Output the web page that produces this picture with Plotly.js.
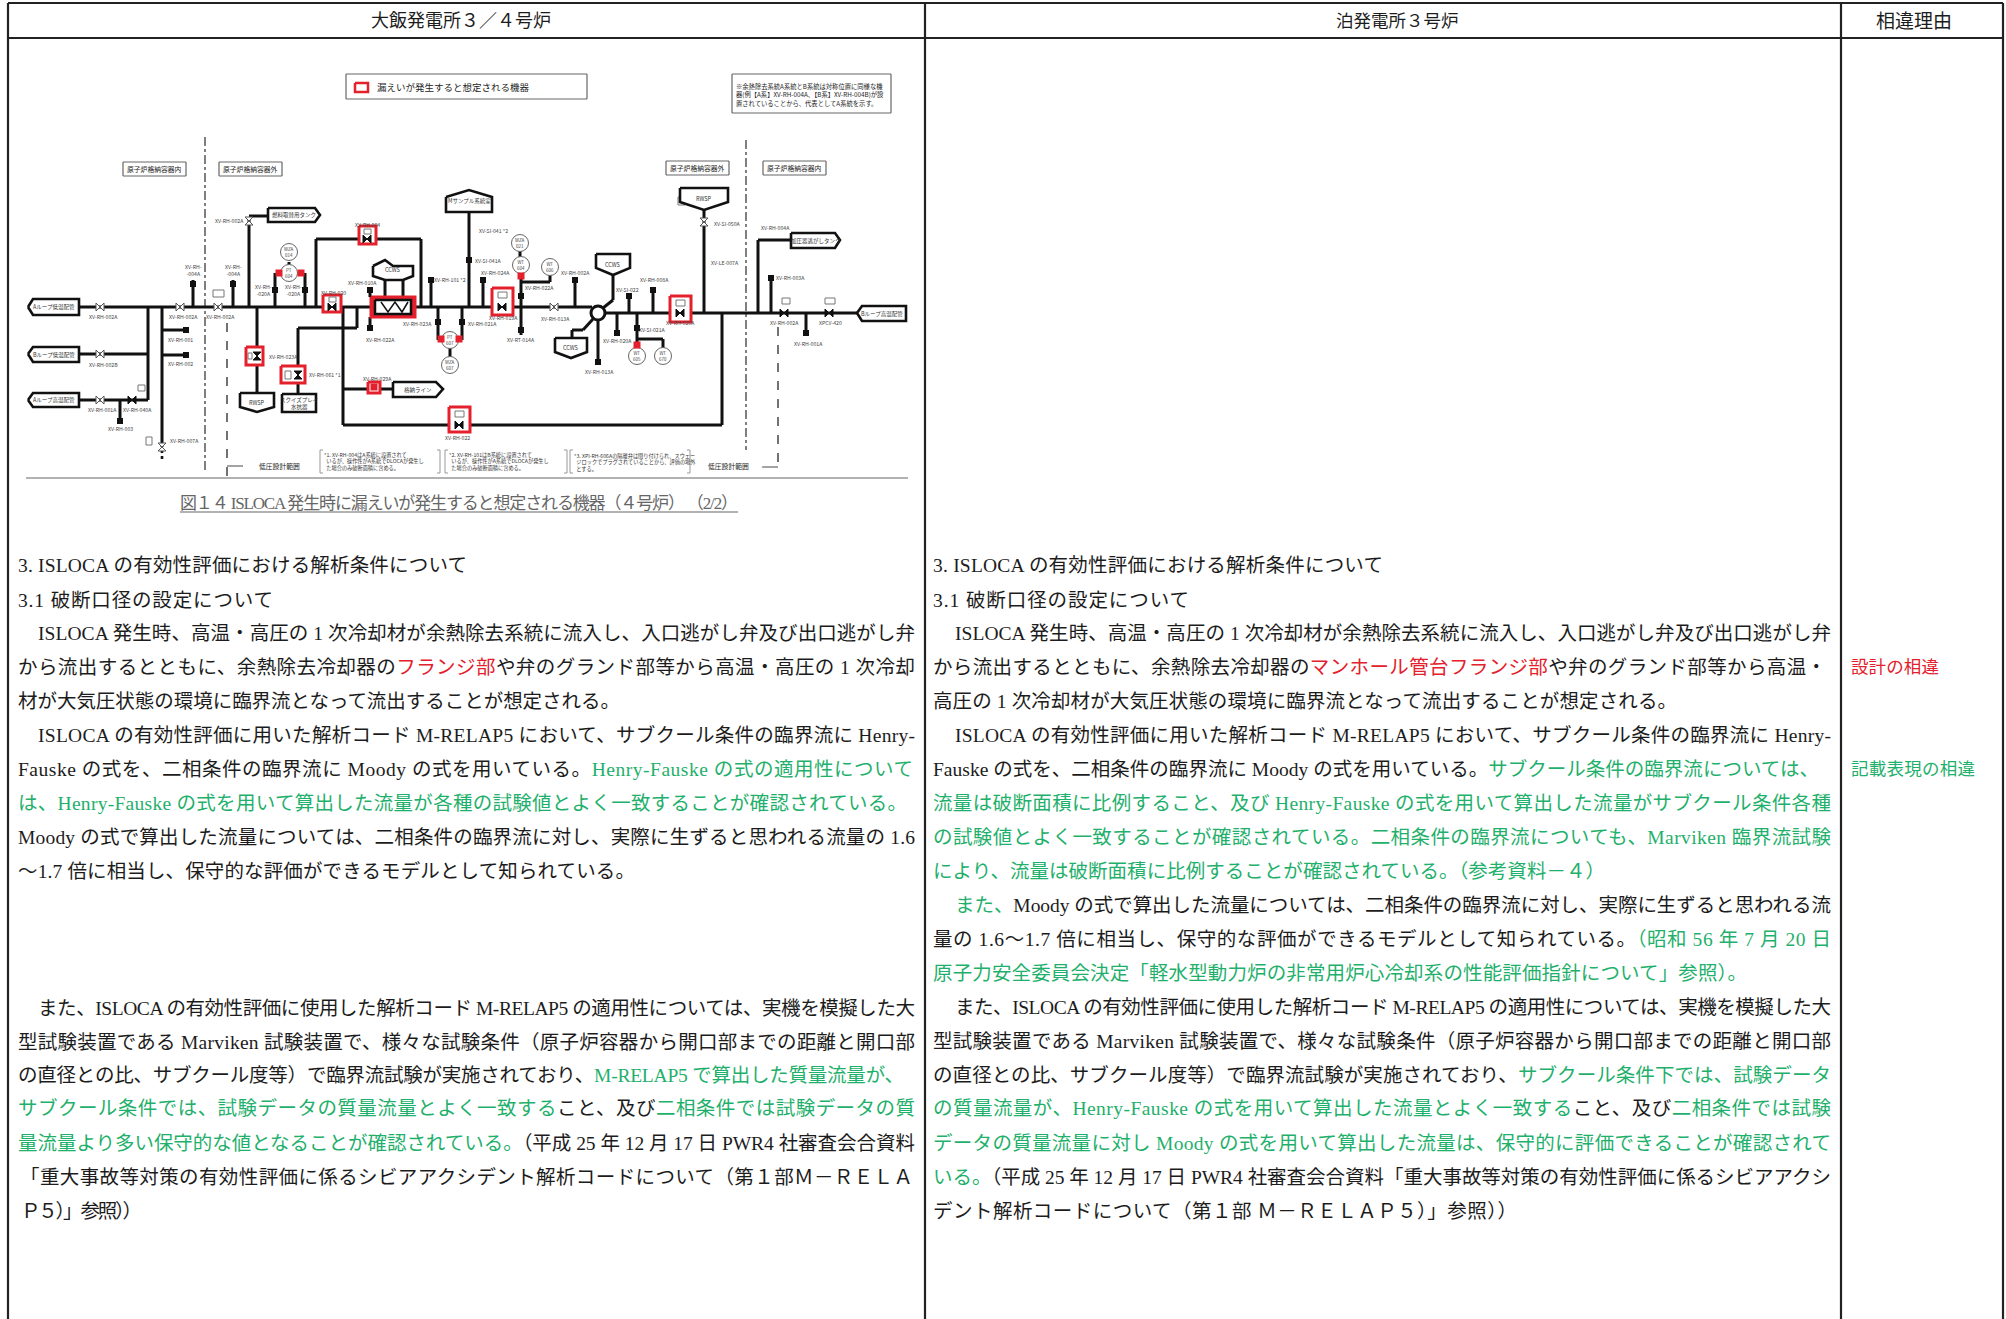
<!DOCTYPE html>
<html><head><meta charset="utf-8">
<script src="https://cdn.plot.ly/plotly-3.0.1.min.js"></script>
<style>html,body{margin:0;padding:0;background:#fff}</style></head>
<body><div id="chart" style="width:2006px;height:1319px"></div>
<script>
const SERIF='"Liberation Serif","Noto Sans CJK JP",serif';
const SANS='"Noto Sans CJK JP","Liberation Sans",sans-serif';
const RED='#e3202c', GREEN='#1fb06c', INK='#1c1c1c';
const R=s=>`<span style="color:${RED}">${s}</span>`;
const G=s=>`<span style="color:${GREEN}">${s}</span>`;
/* W: full-width form of an ASCII run; FW: full-width brackets and wave dash */
const W=s=>s.replace(/[!-~]/g,c=>String.fromCharCode(c.charCodeAt(0)+0xFEE0));
const FW=s=>s.replace(/\(/g,'\uFF08').replace(/\)/g,'\uFF09').replace(/~/g,'\uFF5E');

/* table */
const headers=[['大飯発電所'+W('3/4')+'号炉',461,21,18],['泊発電所'+W('3')+'号炉',1397,21,17.5],['相違理由',1914,21,19]];
const tableRules=[[8,3,2003,3],[8,38,2003,38],[8,3,8,1319],[925,3,925,1319],[1841,3,1841,1319],[2003,3,2003,1319]];

/* body text: [text, y, xStart, xEnd] */
const leftLines=[
['3. ISLOCA の有効性評価における解析条件について',565,18,467],
['3.1 破断口径の設定について',600,18,273],
['ISLOCA 発生時、高温・高圧の 1 次冷却材が余熱除去系統に流入し、入口逃がし弁及び出口逃がし弁',633,38,915],
['から流出するとともに、余熱除去冷却器の'+R('フランジ部')+'や弁のグランド部等から高温・高圧の 1 次冷却',667,18,915],
['材が大気圧状態の環境に臨界流となって流出することが想定される。',701,18,620],
['ISLOCA の有効性評価に用いた解析コード M-RELAP5 において、サブクール条件の臨界流に Henry-',735,38,915],
['Fauske の式を、二相条件の臨界流に Moody の式を用いている。'+G('Henry-Fauske の式の適用性について'),769,18,913],
[G('は、Henry-Fauske の式を用いて算出した流量が各種の試験値とよく一致することが確認されている。'),803,18,907],
['Moody の式で算出した流量については、二相条件の臨界流に対し、実際に生ずると思われる流量の 1.6',837,18,915],
['~1.7 倍に相当し、保守的な評価ができるモデルとして知られている。',871,18,635],
['また、ISLOCA の有効性評価に使用した解析コード M-RELAP5 の適用性については、実機を模擬した大',1008,38,915],
['型試験装置である Marviken 試験装置で、様々な試験条件(原子炉容器から開口部までの距離と開口部',1042,18,915],
['の直径との比、サブクール度等)で臨界流試験が実施されており、'+G('M-RELAP5 で算出した質量流量が、'),1075,18,904],
[G('サブクール条件では、試験データの質量流量とよく一致する')+'こと、及び'+G('二相条件では試験データの質'),1108,18,915],
[G('量流量より多い保守的な値となることが確認されている。')+'(平成 25 年 12 月 17 日 PWR4 社審査会合資料',1143,18,915],
['「重大事故等対策の有効性評価に係るシビアアクシデント解析コードについて(第'+W('1')+'部'+W('M-RELA'),1177,20,913],
[W('P5')+')」参照))',1211,21,142]];
const rightLines=[
['3. ISLOCA の有効性評価における解析条件について',565,933,1383],
['3.1 破断口径の設定について',600,933,1189],
['ISLOCA 発生時、高温・高圧の 1 次冷却材が余熱除去系統に流入し、入口逃がし弁及び出口逃がし弁',633,955,1831],
['から流出するとともに、余熱除去冷却器の'+R('マンホール管台フランジ部')+'や弁のグランド部等から高温・',667,933,1826],
['高圧の 1 次冷却材が大気圧状態の環境に臨界流となって流出することが想定される。',701,933,1677],
['ISLOCA の有効性評価に用いた解析コード M-RELAP5 において、サブクール条件の臨界流に Henry-',735,955,1831],
['Fauske の式を、二相条件の臨界流に Moody の式を用いている。'+G('サブクール条件の臨界流については、'),769,933,1819],
[G('流量は破断面積に比例すること、及び Henry-Fauske の式を用いて算出した流量がサブクール条件各種'),803,933,1831],
[G('の試験値とよく一致することが確認されている。二相条件の臨界流についても、Marviken 臨界流試験'),837,933,1831],
[G('により、流量は破断面積に比例することが確認されている。(参考資料'+W('-4')+')'),871,933,1605],
[G('また、')+'Moody の式で算出した流量については、二相条件の臨界流に対し、実際に生ずると思われる流',905,955,1831],
['量の 1.6~1.7 倍に相当し、保守的な評価ができるモデルとして知られている。'+G('(昭和 56 年 7 月 20 日'),939,933,1831],
[G('原子力安全委員会決定「軽水型動力炉の非常用炉心冷却系の性能評価指針について」参照)。'),973,933,1747],
['また、ISLOCA の有効性評価に使用した解析コード M-RELAP5 の適用性については、実機を模擬した大',1007,955,1831],
['型試験装置である Marviken 試験装置で、様々な試験条件(原子炉容器から開口部までの距離と開口部',1041,933,1831],
['の直径との比、サブクール度等)で臨界流試験が実施されており、'+G('サブクール条件下では、試験データ'),1075,933,1831],
[G('の質量流量が、Henry-Fauske の式を用いて算出した流量とよく一致する')+'こと、及び'+G('二相条件では試験'),1108,933,1831],
[G('データの質量流量に対し Moody の式を用いて算出した流量は、保守的に評価できることが確認されて'),1143,933,1831],
[G('いる。')+'(平成 25 年 12 月 17 日 PWR4 社審査会合資料「重大事故等対策の有効性評価に係るシビアアクシ',1177,933,1831],
['デント解析コードについて(第'+W('1')+'部 '+W('M-RELAP5')+')」参照))',1211,933,1517]];
const reasonLines=[[R('設計の相違'),667,1851,1939],[G('記載表現の相違'),769,1851,1975]];

/* diagram */
const pipes=[
[79,307,372,307],[414,307,592,307],[605,313,857,313],[148,307,148,400],[79,354,148,354],[79,400,148,400],
[162,307,162,447],[162,330,188,330],[162,355,188,355],[120,400,120,423],[193,307,193,280],[233,307,233,280],
[249,307,249,217],[249,216,268,216],[275,307,275,273],[305,307,305,273],[316,307,316,239],[316,239,421,239],[421,239,421,307],
[385,280,385,297],[403,280,403,297],[370,288,370,297],[370,317,370,331],[431,307,431,277],
[357,307,357,328],[357,328,298,328],[298,328,298,394],[343,307,343,425],[343,425,722,425],[722,425,722,313],[343,389,393,389],
[257,307,257,393],[438,307,438,340],[462,307,462,340],[450,348,450,358],[469,307,469,212],[483,307,483,277],
[521,307,521,335],[521,307,521,265],[521,282,550,282],[550,282,550,275],[520,251,520,265],[575,307,575,277],
[613,275,613,300],[613,300,603,308],[593,319,583,330],[583,330,572,330],[572,330,572,338],[598,320,598,365],
[617,313,617,335],[637,313,637,348],[637,339,663,339],[663,339,663,348],[629,313,629,293],[653,313,653,287],
[704,313,704,208],[758,313,758,240],[758,240,791,240],[771,313,771,275],[806,313,806,336],[289,262,289,266]];
const hexes=[
[[28,33,79,79,33,28],[307,299,299,315,315,307],'Aループ低温配管'],
[[28,33,79,79,33,28],[354,347,347,362,362,354],'Bループ低温配管'],
[[28,33,79,79,33,28],[400,393,393,407,407,400],'Aループ高温配管'],
[[268,315,320,315,268,268],[208,208,215,222,222,208],'燃料取替用タンク'],
[[393,436,443,436,393,393],[382,382,389,397,397,382],'格納ライン'],
[[791,835,840,835,791,791],[233,233,240,248,248,233],'加圧器逃がしタンク'],
[[857,862,906,906,862,857],[313,306,306,321,321,313],'Bループ高温配管']];
const tanks=[
[[240,274,274,257,240,240],[393,393,407,412,407,393],'RWSP'],
[[282,316,316,282,282],[394,394,412,412,394],'スクイズプレイ<br>水抗器'],
[[373,385,393,413,413,403,385,373,373],[266,260,266,266,276,280,280,276,266],'CCWS'],
[[446,469,492,492,446,446],[197,190,197,212,212,197],'Mサンプル系統室'],
[[596,630,630,613,596,596],[254,254,268,275,268,254],'CCWS'],
[[555,587,587,571,555,555],[338,338,352,358,352,338],'CCWS'],
[[680,728,728,704,680,680],[188,188,202,210,202,188],'RWSP']];
const redBoxes=[[246,347,263,365],[281,366,305,383],[323,295,341,312],[359,226,376,244],[368,382,380,393],[449,407,470,432],[492,288,513,315],[670,296,691,322]];
const hxOuter=[371,297,415,317], hxInner=[375,300,411,314];
const hxWaveX=[381,388,395,402,408], hxWaveY=[302,312,302,312,302];
const valvesOpen=[[100,307],[180,307],[218,307],[100,354],[100,400],[554,307]];
const valvesOpenV=[[162,447],[704,222],[249,221]];
const valvesBlack=[[132,400],[784,313],[829,313],[332,307],[367,239],[459,425],[502,307],[680,313]];
const valvesBlackV=[[257,356],[298,375]];
const caps=[[120,421],[193,284],[233,284],[275,290],[305,290],[370,290],[370,328],[431,280],[186,330],[186,355],[438,322],[462,322],[483,280],[521,330],[521,296],[575,280],[617,333],[637,328],[629,296],[653,290],[771,278],[806,333],[598,362],[469,260]];
const redSquares=[[279,273],[301,273],[441,339],[459,339],[521,276],[637,345],[374,387]];
const instruments=[[289,252,'WZA<br>014'],[289,273,'PT<br>604'],[450,340,'PT<br>607'],[450,365,'WZA<br>607'],[520,243,'WZA<br>021'],[521,265,'WT<br>604'],[550,267,'WT<br>606'],[637,356,'WT<br>605'],[663,356,'WT<br>670']];
const actuators=[[213,290,224,297],[285,371,291,379],[248,353,252,359],[329,297,336,302],[364,229,371,234],[455,411,464,417],[498,292,507,298],[676,300,685,306],[138,385,145,391],[146,437,152,445],[678,197,685,205],[782,298,790,304],[825,298,835,304]];
const thinRules=[[26,478,908,478],[346,74,587,74],[587,74,587,99],[587,99,346,99],[346,99,346,74],[732,74,891,74],[891,74,891,113],[891,113,732,113],[732,113,732,74],
[123,162,186,162],[186,162,186,176],[186,176,123,176],[123,176,123,162],[219,162,282,162],[282,162,282,176],[282,176,219,176],[219,176,219,162],
[666,161,729,161],[729,161,729,175],[729,175,666,175],[666,175,666,161],[763,161,826,161],[826,161,826,175],[826,175,763,175],[763,175,763,161],
[227,466,243,466],[778,467,762,467],[180,512,738,512]];
const brackets=[[323,450,320,450],[320,450,320,473],[320,473,323,473],[437,450,440,450],[440,450,440,473],[440,473,437,473],[448,450,445,450],[445,450,445,473],[445,473,448,473],[564,450,567,450],[567,450,567,473],[567,473,564,473],[573,450,570,450],[570,450,570,473],[570,473,573,473],[687,450,690,450],[690,450,690,473],[690,473,687,473]];
const containmentLines=[[205,137,205,473],[746,140,746,450]];
const limitLines=[[227,323,227,477],[778,327,778,470]];
const diagramText=[
['漏えいが発生すると想定される機器',377,87,9.5,'left',INK],
['※余熱除去系統A系統とB系統は対称位置に同様な機',736,86,6.3,'left',INK],
['器(例【A系】XV-RH-004A、【B系】XV-RH-004B)が設',736,94.5,6.3,'left',INK],
['置されていることから、代表としてA系統を示す。',736,103,6.3,'left',INK],
['原子炉格納容器内',154,169,6.8,'center',INK],['原子炉格納容器外',250,169,6.8,'center',INK],
['原子炉格納容器外',697,168,6.8,'center',INK],['原子炉格納容器内',794,168,6.8,'center',INK],
['低圧設計範囲',279,466,6.8,'center',INK],['低圧設計範囲',728,466,6.8,'center',INK],
['*1. XV-RH-004はA系統に設置されて',324,455,5.2,'left','#333'],
['  いるが、操作性がA系統でDLOCAが発生し',324,461,5.2,'left','#333'],
['  た場合のみ破断面積に含める。',324,468,5.2,'left','#333'],
['*2. XV-RH-101はB系統に設置されて',449,455,5.2,'left','#333'],
['  いるが、操作性がA系統でDLOCAが発生し',449,461,5.2,'left','#333'],
['  た場合のみ破断面積に含める。',449,468,5.2,'left','#333'],
['*3. XPI-RH-606Aの隔離弁は閉り付けられ、スウェー',574,456,5.2,'left','#333'],
['  ジロックでプラグされていることから、評価の場外',574,462,5.2,'left','#333'],
['  とする。',574,468,5.2,'left','#333']];
const valveLabels=[
['XV-RH-002A',103,316],['XV-RH-002A',183,316],['XV-RH-002A',220,316],['XV-RH-001',180,339],['XV-RH-002',180,363],['XV-RH-002B',103,364],
['XV-RH-001A',102,409],['XV-RH-040A',137,409],['XV-RH-003',120,428],['XV-RH-007A',184,440],['XV-RH-<br>-004A',193,270],['XV-RH-<br>-004A',233,270],
['XV-RH-002A',229,220],['XV-RH-<br>-020A',263,290],['XV-RH-<br>-020A',293,290],['XV-RH-020',333,292],['XV-RH-010A',362,282],['XV-RH-004',367,224],
['XV-RH-101 *2',450,279],['XV-RH-023A',417,323],['XV-RH-022A',380,339],['XV-RH-023A',283,356],['XV-RH-061 *1',325,374],['XV-RH-029A',377,378],['XV-RH-022',457,437],
['XV-SI-041 *2',493,230],['XV-SI-041A',488,260],['XV-RH-024A',495,272],['XV-RH-002A',575,272],['XV-RH-022A',539,287],['XV-RH-019A',503,317],
['XV-RH-013A',555,318],['XV-RH-021A',482,323],['XV-RT-014A',521,339],['XV-RH-013A',599,371],['XV-SI-022',627,289],['XV-RH-008A',654,279],['XV-RH-020A',617,340],
['XV-SI-021A',652,329],['XV-RH-020A',680,322],['XV-SI-050A',727,223],['XV-LE-007A',725,262],['XV-RH-004A',775,227],['XV-RH-003A',790,277],['XV-RH-002A',784,322],
['XPCV-420',830,322],['XV-RH-001A',808,343]];
const caption=['図'+W('14')+' ISLOCA 発生時に漏えいが発生すると想定される機器('+W('4')+'号炉) (2/2)',180,503,738];

/* ---- build with the library ---- */
function segs(list){const x=[],y=[];list.forEach(s=>{x.push(s[0],s[2],null);y.push(s[1],s[3],null)});return{x,y}}
function boxes(list){const x=[],y=[];list.forEach(b=>{x.push(b[0],b[2],b[2],b[0],b[0],null);y.push(b[1],b[1],b[3],b[3],b[1],null)});return{x,y}}
const base={hoverinfo:'skip',showlegend:false};
const lineT=(list,color,width,dash)=>Object.assign({},base,segs(list),{type:'scatter',mode:'lines',line:{color,width,dash:dash||'solid'}});
const polyT=(x,y,lc,lw,fc)=>Object.assign({},base,{x,y,type:'scatter',mode:'lines',fill:'toself',fillcolor:fc,line:{color:lc,width:lw}});
const boxT=(list,lc,lw,fc)=>{const s=boxes(list);return polyT(s.x,s.y,lc,lw,fc)};
const markT=(list,symbol,size,color,lc,lw)=>Object.assign({},base,{x:list.map(p=>p[0]),y:list.map(p=>p[1]),type:'scatter',mode:'markers',marker:{symbol,size,color,line:{color:lc,width:lw}}});

const traces=[
 lineT(tableRules,'#222',2.2),
 lineT(thinRules,'#666',1.2),
 lineT(brackets,'#999',1),
 lineT(containmentLines,'#555',1.5,'dashdot'),
 lineT(limitLines,'#444',1.5,'dash'),
 lineT(pipes,'#111',3),
 lineT([[162,450,162,460]],'#111',2.6,'dot'),
 boxT([[355,83,368,92]],RED,2.5,'#fff'),
 boxT(redBoxes,RED,3,'#fff'),
 boxT([hxOuter],RED,3,RED),
 boxT([hxInner],'#111',2.5,'#fff'),
 Object.assign({},base,{x:hxWaveX,y:hxWaveY,type:'scatter',mode:'lines',line:{color:'#111',width:1.5}}),
 boxT(actuators,'#777',1,'#fff')];
hexes.concat(tanks).forEach(p=>traces.push(polyT(p[0],p[1],'#111',2.6,'#fff')));
traces.push(
 markT(valvesOpen,'bowtie',8,'#fff','#555',1),
 markT(valvesOpenV,'hourglass',8,'#fff','#555',1),
 markT(valvesBlack,'bowtie',8,'#111','#111',1),
 markT(valvesBlackV,'hourglass',8,'#111','#111',1),
 markT(caps,'square',6,'#111','#111',0),
 markT(instruments,'circle',17,'#fff','#666',1),
 markT(redSquares,'square',7,RED,RED,0),
 markT([[598,313]],'circle',14,'#fff','#111',3));

const annotations=[], fit={};
function add(text,x,y,size,o){o=o||{};annotations.push({text,x,y,xref:'x',yref:'y',showarrow:false,xanchor:o.anchor||'left',yanchor:'middle',align:o.anchor||'left',
  font:{family:o.family||SERIF,size,color:o.color||INK},borderpad:0,borderwidth:0,captureevents:false});
  if(o.target)fit[annotations.length-1]=o.target;}
headers.forEach(h=>add(h[0],h[1],h[2],h[3],{anchor:'center'}));
leftLines.concat(rightLines).forEach(l=>add(FW(l[0]),l[2],l[1],19.5,{target:l[3]-l[2]}));
reasonLines.forEach(l=>add(l[0],l[2],l[1],17.5,{target:l[3]-l[2]}));
add(FW(caption[0]),caption[1],caption[2],17,{color:'#666',target:caption[3]-caption[1]});
diagramText.forEach(t=>add(t[0],t[1],t[2],t[3],{anchor:t[4],color:t[5],family:SANS}));
hexes.concat(tanks).forEach(p=>{const xs=p[0],ys=p[1];add(p[2],(Math.min(...xs)+Math.max(...xs))/2,(Math.min(...ys)+Math.max(...ys))/2,5.5,{anchor:'center',family:SANS,color:'#333'})});
valveLabels.forEach(l=>add(l[0],l[1],l[2],5.2,{anchor:'center',family:SANS,color:'#444'}));
instruments.forEach(i=>add(i[2],i[0],i[1],4.5,{anchor:'center',family:SANS,color:'#444'}));

const layout={width:2006,height:1319,margin:{l:0,r:0,t:0,b:0,pad:0},paper_bgcolor:'#fff',plot_bgcolor:'#fff',showlegend:false,
 xaxis:{range:[0,2006],visible:false,fixedrange:true},yaxis:{range:[1319,0],visible:false,fixedrange:true},annotations};
Plotly.newPlot('chart',traces,layout,{staticPlot:true,displayModeBar:false}).then(()=>{
 document.querySelectorAll('g.annotation').forEach(g=>{
  const i=g.getAttribute('data-index');if(!(i in fit))return;
  const t=g.querySelector('text.annotation-text');if(!t)return;
  const len=t.getComputedTextLength(),n=t.textContent.length;
  t.style.letterSpacing=((fit[i]-len)/Math.max(1,n-1)).toFixed(3)+'px';
 });
});
</script></body></html>
